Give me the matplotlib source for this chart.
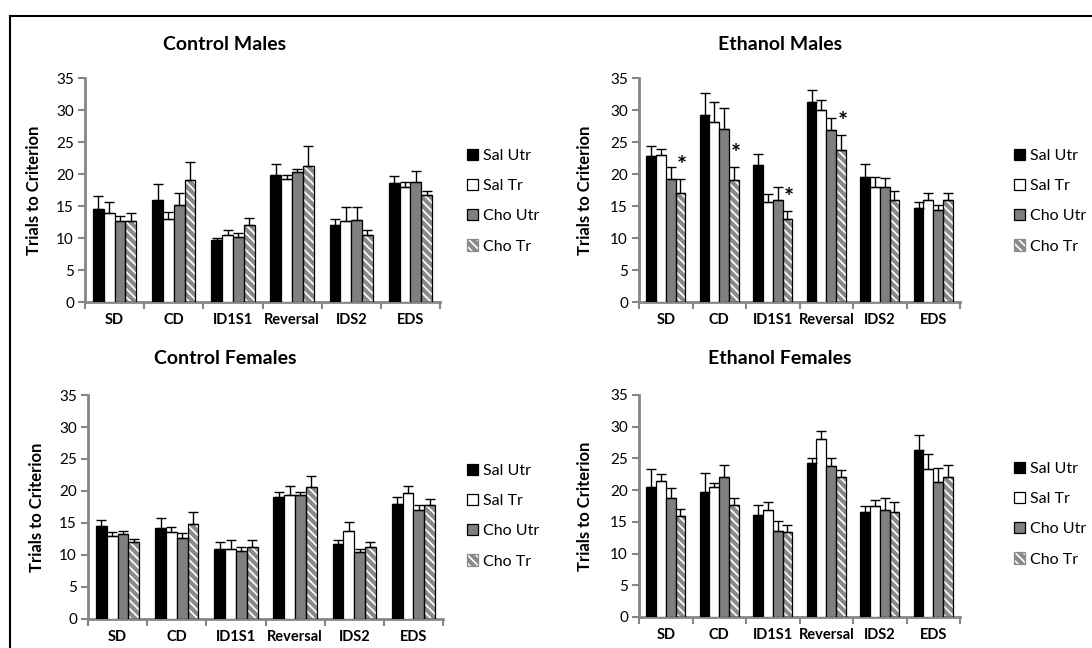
import matplotlib
matplotlib.use('Agg')
import numpy as np
from matplotlib import pyplot as plt
from matplotlib.patches import Patch
from matplotlib.lines import Line2D

plt.rcParams['font.family'] = ['Lato', 'DejaVu Sans']
plt.rcParams['hatch.linewidth'] = 3.0

categories = ['SD', 'CD', 'ID1S1', 'Reversal', 'IDS2', 'EDS']
series = ['Sal Utr', 'Sal Tr', 'Cho Utr', 'Cho Tr']

# Control Males
cm_mean = [[14.6, 16.0, 9.7, 19.9, 12.1, 18.6],
           [13.9, 12.9, 10.4, 19.2, 12.7, 18.0],
           [12.6, 15.2, 10.2, 20.3, 12.8, 18.8],
           [12.7, 19.0, 12.0, 21.3, 10.4, 16.7]]
cm_err = [[2.0, 2.5, 0.3, 1.6, 0.9, 1.1],
          [1.7, 1.2, 0.85, 0.7, 2.1, 0.8],
          [0.8, 1.8, 0.6, 0.5, 2.0, 1.6],
          [1.2, 2.8, 1.1, 3.0, 0.85, 0.6]]

# Ethanol Males
em_mean = [[22.8, 29.2, 21.4, 31.2, 19.6, 14.7],
           [22.9, 28.1, 15.7, 30.0, 18.0, 15.9],
           [19.2, 27.0, 16.0, 26.9, 18.0, 14.3],
           [17.1, 19.0, 12.9, 23.7, 15.9, 16.0]]
em_err = [[1.5, 3.5, 1.7, 2.0, 1.9, 1.0],
          [1.0, 3.1, 1.2, 1.5, 1.5, 1.2],
          [1.9, 3.3, 2.0, 1.8, 1.3, 0.9],
          [2.1, 2.1, 1.3, 2.4, 1.5, 1.0]]
em_sig = [True, True, True, True, False, False]

# Control Females
cf_mean = [[14.6, 14.2, 11.0, 19.0, 11.7, 18.0],
           [13.0, 13.6, 11.0, 19.4, 13.8, 19.7],
           [13.3, 12.6, 10.7, 19.4, 10.5, 17.1],
           [12.0, 14.9, 11.25, 20.7, 11.2, 17.8]]
cf_err = [[0.8, 1.6, 1.1, 0.8, 0.7, 1.1],
          [0.6, 0.7, 1.3, 1.4, 1.4, 1.1],
          [0.45, 0.8, 0.5, 0.4, 0.5, 0.7],
          [0.55, 1.8, 1.05, 1.7, 0.8, 1.0]]

# Ethanol Females
ef_mean = [[20.5, 19.7, 16.1, 24.3, 16.6, 26.4],
           [21.4, 20.5, 16.9, 28.0, 17.5, 23.4],
           [18.8, 22.0, 13.6, 23.8, 16.9, 21.3],
           [16.0, 17.6, 13.4, 22.0, 16.5, 22.0]]
ef_err = [[2.8, 3.0, 1.6, 0.7, 0.9, 2.3],
          [1.1, 0.6, 1.3, 1.4, 1.0, 2.3],
          [1.6, 1.9, 1.5, 1.3, 1.9, 2.2],
          [1.0, 1.2, 1.1, 1.1, 1.7, 1.9]]

W, H = 1092, 648
fig = plt.figure(figsize=(W / 100, H / 100), dpi=100)

def px_rect(x0, y0, x1, y1):
    return [x0 / W, 1 - y1 / H, (x1 - x0) / W, (y1 - y0) / H]

axis_gray = '#868686'
fills = ['black', 'white', '#808080', 'white']
bw = 0.183

panels = [
    ('Control Males', cm_mean, cm_err, None, px_rect(85, 78, 440, 302), 225, 45, 467, 149, -0.121),
    ('Ethanol Males', em_mean, em_err, em_sig, px_rect(639, 78, 960, 302), 780, 45, 1014, 149, -0.143),
    ('Control Females', cf_mean, cf_err, None, px_rect(88, 395, 443, 619), 225, 358, 467, 464, -0.121),
    ('Ethanol Females', ef_mean, ef_err, None, px_rect(639, 395, 960, 617), 780, 358, 1014, 462, -0.143),
]

for title, means, errs, sig, rect, tx, ty, lx, ly, ylx in panels:
    ax = fig.add_axes(rect)
    x = np.arange(len(categories)) + 0.5
    for i in range(4):
        xs = x + (i - 1.5) * bw
        if i == 3:
            ax.bar(xs, means[i], bw, color='white', edgecolor='#8a8a8a',
                   hatch='\\\\\\\\', linewidth=0, zorder=2)
            ax.bar(xs, means[i], bw, fill=False, edgecolor='black',
                   linewidth=0.9, zorder=3)
        else:
            ax.bar(xs, means[i], bw, color=fills[i], edgecolor='black',
                   linewidth=0.9, zorder=3)
        ax.errorbar(xs, means[i], yerr=[np.zeros(6), errs[i]], fmt='none',
                    ecolor='black', elinewidth=1.0, capsize=3.5, capthick=1.0,
                    zorder=4)
        if sig is not None and i == 3:
            for j in range(6):
                if sig[j]:
                    ax.text(xs[j] + 0.03, means[i][j] + errs[i][j] + 0.1, '*',
                            ha='center', va='bottom', fontsize=17,
                            fontweight='bold')

    ax.set_xlim(0, 6)
    ax.set_ylim(0, 35)
    ax.set_yticks(range(0, 36, 5))
    ax.set_xticks(range(0, 7))
    ax.set_xticklabels([])
    ax.set_xticks(x, minor=True)
    ax.set_xticklabels(categories, minor=True, fontweight='bold', fontsize=10.5)
    ax.tick_params(axis='x', which='minor', length=0, pad=8)
    ax.tick_params(axis='x', which='major', length=5, width=1.5, color=axis_gray)
    ax.tick_params(axis='y', length=5, width=1.5, color=axis_gray, labelsize=11,
                   pad=3)
    for s in ['top', 'right']:
        ax.spines[s].set_visible(False)
    for s in ['left', 'bottom']:
        ax.spines[s].set_color(axis_gray)
        ax.spines[s].set_linewidth(2)
    ax.set_ylabel('Trials to Criterion', fontweight='bold', fontsize=12)
    ax.yaxis.set_label_coords(ylx, 0.5)

    fig.text(tx / W, 1 - ty / H, title, ha='center', va='center',
             fontsize=14, fontweight='bold')

    handles = [Patch(facecolor='black', edgecolor='black', linewidth=0.9),
               Patch(facecolor='white', edgecolor='black', linewidth=0.9),
               Patch(facecolor='#808080', edgecolor='black', linewidth=0.9),
               Patch(facecolor='white', edgecolor='#8a8a8a', hatch='\\\\\\\\',
                     linewidth=0.9)]
    fig.legend(handles, series, loc='upper left',
               bbox_to_anchor=(lx / W, 1 - ly / H), frameon=False,
               fontsize=11.5, handlelength=0.7, handleheight=0.7,
               handletextpad=0.3, labelspacing=1.0, borderpad=0,
               borderaxespad=0)

# frame lines of the original sheet (left and top only)
fig.add_artist(Line2D([10 / W, 10 / W], [0, 1 - 16 / H], color='black', lw=1.5))
fig.add_artist(Line2D([10 / W, 1], [1 - 16 / H, 1 - 16 / H], color='black', lw=1.5))

fig.savefig('out.png', dpi=100)
